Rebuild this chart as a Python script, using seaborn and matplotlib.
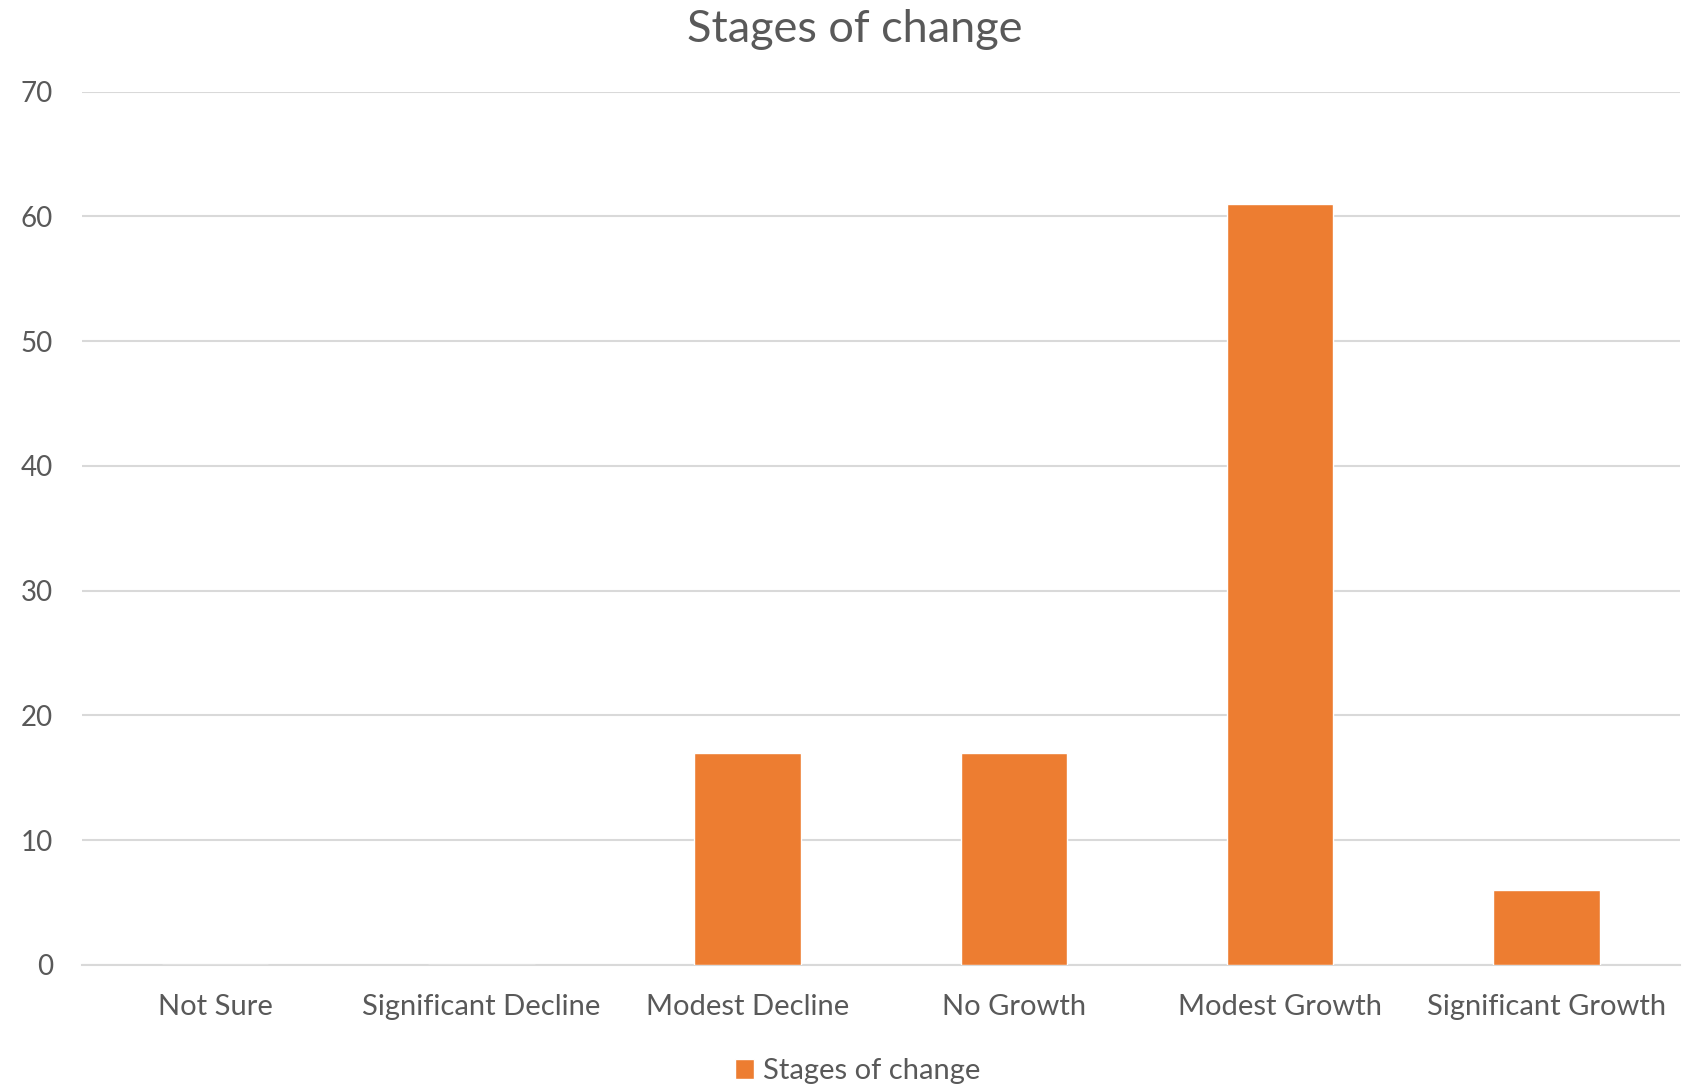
import matplotlib.pyplot as plt
import pandas as pd
import seaborn as sns

CATEGORIES = ["Not Sure", "Significant Decline", "Modest Decline",
              "No Growth", "Modest Growth", "Significant Growth"]
COUNTS = [0, 0, 17, 17, 61, 6]
SERIES = "Stages of change"

TEXT = "#595959"
GRID = "#D9D9D9"
ORANGE = "#ED7D31"


def main():
    df = pd.DataFrame({"Stage": CATEGORIES, "Count": COUNTS})

    sns.set_style("white")
    plt.rcParams["font.family"] = ["Lato", "DejaVu Sans"]

    fig = plt.figure(figsize=(16.83, 10.85), dpi=100)
    ax = fig.add_axes([0.0487, 0.1106, 0.9493, 0.805])

    sns.barplot(data=df, x="Stage", y="Count", order=CATEGORIES, color=ORANGE,
                width=0.4, saturation=1, label=SERIES, ax=ax, zorder=3)

    ax.set_xlim(-0.5, len(CATEGORIES) - 0.5)
    ax.set_ylim(0, 70)
    ax.set_yticks(range(0, 71, 10))
    ax.yaxis.grid(True, color=GRID, linewidth=1.5, zorder=0)
    ax.set_axisbelow(True)
    for side in ["top", "right", "left"]:
        ax.spines[side].set_visible(False)
    ax.spines["bottom"].set_color(GRID)
    ax.spines["bottom"].set_linewidth(1.5)

    ax.tick_params(axis="y", length=0, pad=21, labelsize=20, labelcolor=TEXT)
    ax.tick_params(axis="x", length=0, pad=21, labelsize=21, labelcolor=TEXT)
    ax.set_xlabel("")
    ax.set_ylabel("")

    fig.suptitle(SERIES, x=0.508, y=0.992, va="top", fontsize=32.5, color=TEXT)

    ax.legend(loc="lower center", bbox_to_anchor=(0.4856, -0.1106 / 0.805 - 0.029),
              bbox_transform=ax.transAxes, frameon=False, fontsize=21,
              labelcolor=TEXT, handlelength=0.65, handleheight=0.65,
              handletextpad=0.3)

    fig.savefig("out.png", dpi=100)
    plt.close(fig)


if __name__ == "__main__":
    main()
